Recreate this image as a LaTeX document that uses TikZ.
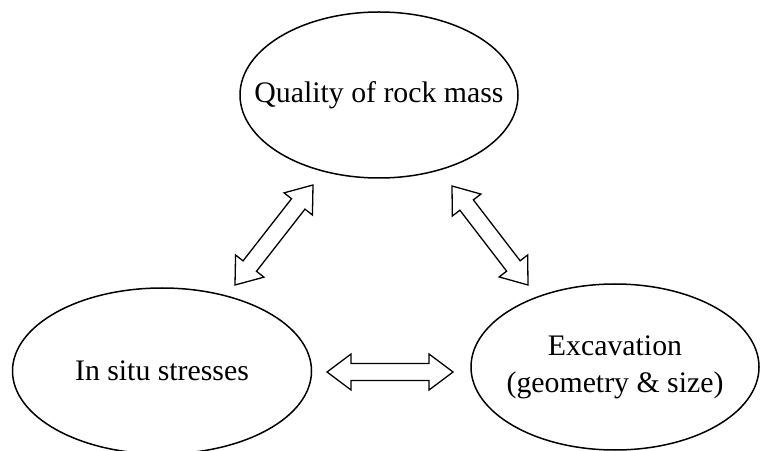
\documentclass[tikz,border=0pt]{standalone}
\usepackage{fontspec}
\setmainfont{Liberation Serif}
\usetikzlibrary{calc,positioning}
\tikzset{
  oval/.style={line width=0.75pt},
  caption/.style={align=center,inner sep=0pt,font=\fontsize{14.9}{18.5}\selectfont},
  hollow/.style={line width=0.65pt,line join=miter}
}
% Hollow two-headed arrow between two points.
\newcommand{\hollowarrow}[2]{%
\draw[hollow] (#1)
  -- ($(#1)!12pt!(#2)!9pt!90:(#2)$)
  -- ($(#1)!12pt!(#2)!4.25pt!90:(#2)$)
  -- ($(#2)!12pt!(#1)!4.25pt!-90:(#1)$)
  -- ($(#2)!12pt!(#1)!9pt!-90:(#1)$)
  -- (#2)
  -- ($(#2)!12pt!(#1)!9pt!90:(#1)$)
  -- ($(#2)!12pt!(#1)!4.25pt!90:(#1)$)
  -- ($(#1)!12pt!(#2)!4.25pt!-90:(#2)$)
  -- ($(#1)!12pt!(#2)!9pt!-90:(#2)$)
  -- cycle;}

\begin{document}
\begin{tikzpicture}[x=0.5pt,y=0.5pt]
\useasboundingbox (0,0) rectangle (760,450);

% Draw the three ovals.
\node[caption] (rock) at (379,355) {Quality of rock mass};
\node[caption] (stress) at (162,79) {In situ stresses};
\node[caption] (excav) at (615,83) {Excavation\\(geometry \& size)};
\draw[oval] (rock.center) ellipse [x radius=69.5pt, y radius=41.5pt];
\draw[oval] (stress.center) ellipse [x radius=74.75pt, y radius=41.5pt];
\draw[oval] (excav.center) ellipse [x radius=72pt, y radius=41.5pt];

% Arrow ends.
\coordinate (rock-l) at (313,265);
\coordinate (stress-t) at (235,165);
\coordinate (rock-r) at (452,264);
\coordinate (excav-t) at (528,165);
\coordinate (stress-r) at (327,78);
\coordinate (excav-l) at (453,78);

% Draw the arrows.
\hollowarrow{rock-l}{stress-t}
\hollowarrow{rock-r}{excav-t}
\hollowarrow{stress-r}{excav-l}
\end{tikzpicture}
\end{document}
